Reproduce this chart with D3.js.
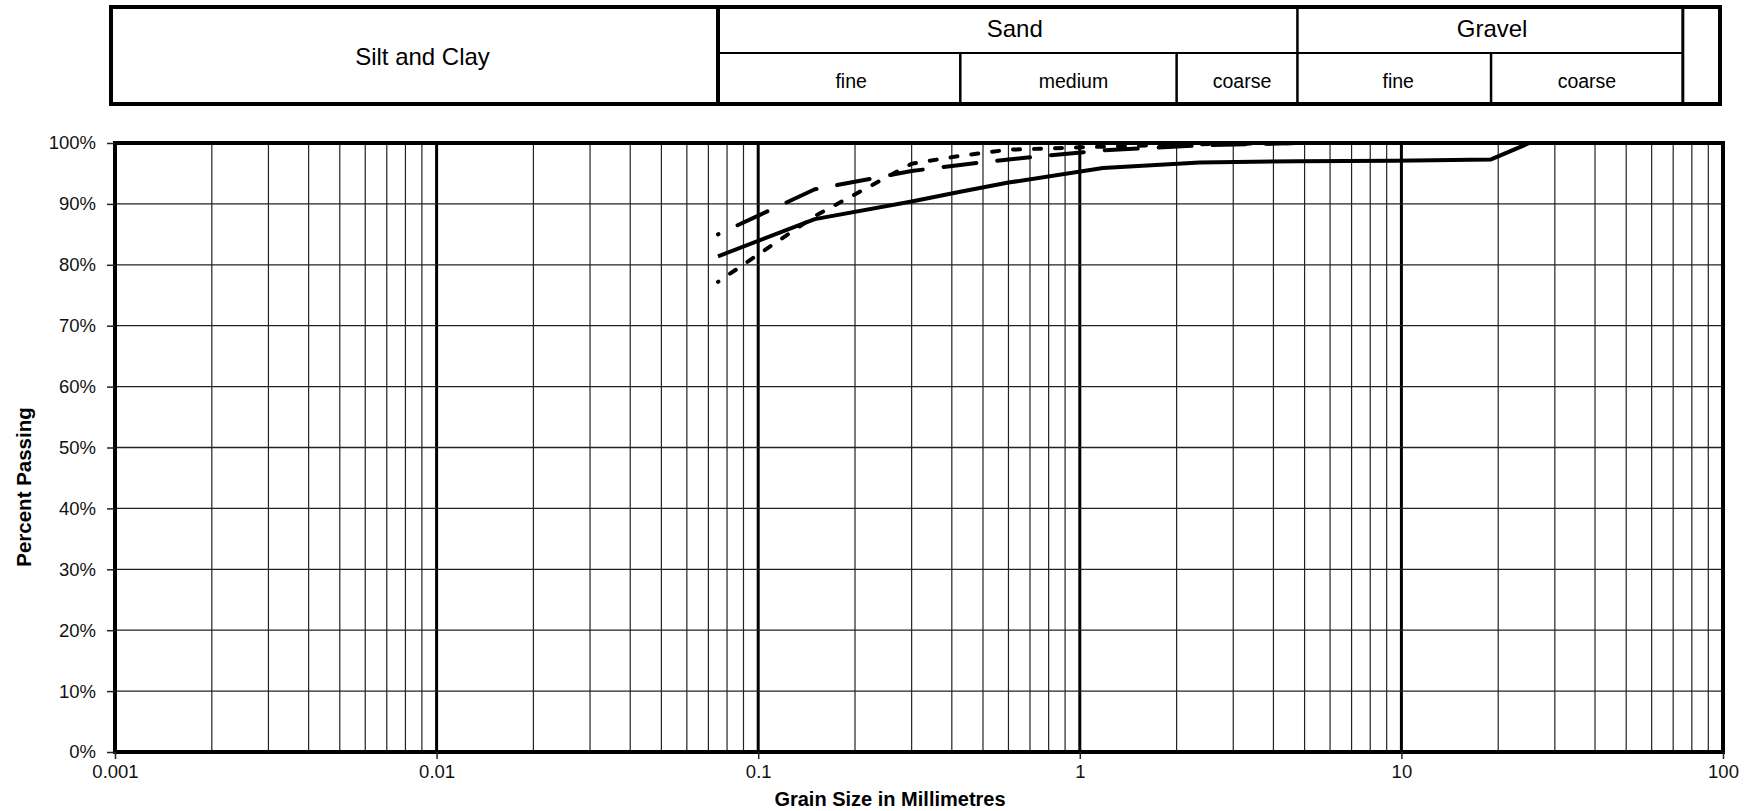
<!DOCTYPE html>
<html>
<head>
<meta charset="utf-8">
<script src="https://cdn.jsdelivr.net/npm/d3@7"></script>
<style>
  html, body { margin: 0; padding: 0; background: #fff; }
  svg { display: block; font-family: "Liberation Sans", Arial, sans-serif; }
</style>
</head>
<body>
<svg id="chart" width="1757" height="811"></svg>
<script>
// Sieve sizes (mm) and percent passing for each sample
const sieveSizes = [0.075, 0.15, 0.3, 0.425, 0.6, 1.18, 2.36, 4.75, 9.5, 19, 25, 37.5, 75];
const sampleSolid = [81.4, 87.5, 90.4, 92.0, 93.5, 95.9, 96.8, 97.0, 97.1, 97.3, 100, 100, 100];
const sampleLongDash = [85.0, 92.4, 95.4, 96.4, 97.3, 98.8, 99.6, 100, 100, 100, 100, 100, 100];
const sampleShortDash = [77.2, 88.0, 96.6, 97.9, 98.9, 99.4, 99.8, 100, 100, 100, 100, 100, 100];

// Axis ticks
const xTickValues = [0.001, 0.01, 0.1, 1, 10, 100];
const xTickLabels = ["0.001", "0.01", "0.1", "1", "10", "100"];
const yTickValues = [0, 10, 20, 30, 40, 50, 60, 70, 80, 90, 100];

// Soil classification bands (boundaries in mm)
const classBounds = [0.075, 0.425, 2, 4.75, 19, 75];
const mainClasses = ["Silt and Clay", "Sand", "Gravel"];
const subClasses = ["fine", "medium", "coarse", "fine", "coarse"];

const svg = d3.select("#chart");
const x = d3.scaleLog().domain([0.001, 100]).range([115, 1723]);
const y = d3.scaleLinear().domain([0, 100]).range([752, 143]);

// ---------- Classification table ----------
const tbl = svg.append("g");
const tLeft = x(0.001) - 4, tRight = x(100) - 3, tTop = 7, tBot = 104, tMid = 53;
const bx = classBounds.map(d => x(d));

tbl.append("line").attr("x1", bx[0]).attr("x2", bx[5]).attr("y1", tMid).attr("y2", tMid)
  .attr("stroke", "#000").attr("stroke-width", 2);
[[bx[0], tTop, 4], [bx[3], tTop, 2.5], [bx[5], tTop, 3],
 [bx[1], tMid, 2.5], [bx[2], tMid, 2.5], [bx[4], tMid, 2.5]].forEach(([xx, y0, w]) => {
  tbl.append("line").attr("x1", xx).attr("x2", xx).attr("y1", y0).attr("y2", tBot)
    .attr("stroke", "#000").attr("stroke-width", w);
});
tbl.append("rect").attr("x", tLeft).attr("y", tTop).attr("width", tRight - tLeft).attr("height", tBot - tTop)
  .attr("fill", "none").attr("stroke", "#000").attr("stroke-width", 4);

tbl.append("text").attr("x", (tLeft + bx[0]) / 2 + 8).attr("y", 65).attr("text-anchor", "middle")
  .attr("font-size", 24).text(mainClasses[0]);
tbl.append("text").attr("x", (bx[0] + bx[3]) / 2 + 7).attr("y", 37).attr("text-anchor", "middle")
  .attr("font-size", 24).text(mainClasses[1]);
tbl.append("text").attr("x", (bx[3] + bx[5]) / 2 + 2).attr("y", 37).attr("text-anchor", "middle")
  .attr("font-size", 24).text(mainClasses[2]);
const subShift = [12, 5, 5, 4, 0];
subClasses.forEach((s, i) => {
  tbl.append("text").attr("x", (bx[i] + bx[i + 1]) / 2 + subShift[i]).attr("y", 88).attr("text-anchor", "middle")
    .attr("font-size", 19.5).text(s);
});

// ---------- Grid ----------
const grid = svg.append("g");
const minor = [];
for (let e = -3; e <= 1; e++) for (let m = 2; m <= 9; m++) minor.push(m * Math.pow(10, e));
grid.selectAll("line.minor").data(minor).join("line")
  .attr("x1", d => x(d)).attr("x2", d => x(d)).attr("y1", y(0)).attr("y2", y(100))
  .attr("stroke", "#222").attr("stroke-width", 1.2);
grid.selectAll("line.decade").data([0.01, 0.1, 1, 10]).join("line")
  .attr("x1", d => x(d)).attr("x2", d => x(d)).attr("y1", y(0)).attr("y2", y(100))
  .attr("stroke", "#000").attr("stroke-width", 3);
grid.selectAll("line.h").data(yTickValues.slice(1, -1)).join("line")
  .attr("x1", x(0.001)).attr("x2", x(100)).attr("y1", d => y(d)).attr("y2", d => y(d))
  .attr("stroke", "#222").attr("stroke-width", 1.3);

// ---------- Curves ----------
const line = d3.line().x(d => x(d[0])).y(d => y(d[1]));
const series = [
  { values: sampleSolid, dash: null, offset: 0 },
  { values: sampleLongDash, dash: "33 21", offset: 32.5 },
  { values: sampleShortDash, dash: "7 14", offset: 6.5 }
];
const curves = svg.append("g");
series.forEach(s => {
  curves.append("path")
    .datum(sieveSizes.map((d, i) => [d, s.values[i]]))
    .attr("d", line)
    .attr("fill", "none").attr("stroke", "#000").attr("stroke-width", 4)
    .attr("stroke-linejoin", "round")
    .attr("stroke-linecap", s.dash ? "round" : "butt")
    .attr("stroke-dasharray", s.dash)
    .attr("stroke-dashoffset", s.offset);
});

// ---------- Frame and axes ----------
svg.append("rect").attr("x", x(0.001)).attr("y", y(100))
  .attr("width", x(100) - x(0.001)).attr("height", y(0) - y(100))
  .attr("fill", "none").attr("stroke", "#000").attr("stroke-width", 4);

const yAxis = d3.axisLeft(y).tickValues(yTickValues).tickFormat(d => d + "%").tickSize(8).tickPadding(11);
const gy = svg.append("g").attr("transform", `translate(${x(0.001)},0)`).call(yAxis);
gy.select(".domain").remove();
gy.selectAll(".tick line").attr("stroke", "#222").attr("stroke-width", 1.5);
gy.selectAll(".tick text").attr("font-size", 18.5).attr("fill", "#111")
  .attr("font-family", "Liberation Sans, Arial, sans-serif");

const xAxis = d3.axisBottom(x).tickValues(xTickValues).tickFormat((d, i) => xTickLabels[i]).tickSize(7).tickPadding(6);
const gx = svg.append("g").attr("transform", `translate(0,${y(0)})`).call(xAxis);
gx.select(".domain").remove();
gx.selectAll(".tick line").attr("stroke", "#222").attr("stroke-width", 1.5);
gx.selectAll(".tick text").attr("font-size", 18.5).attr("fill", "#111")
  .attr("font-family", "Liberation Sans, Arial, sans-serif");

// Axis titles
svg.append("text").attr("x", 890).attr("y", 806).attr("text-anchor", "middle")
  .attr("font-size", 20).attr("font-weight", "bold").text("Grain Size in Millimetres");
svg.append("text").attr("transform", "translate(31,487) rotate(-90)").attr("text-anchor", "middle")
  .attr("font-size", 20.5).attr("font-weight", "bold").text("Percent Passing");
</script>
</body>
</html>
